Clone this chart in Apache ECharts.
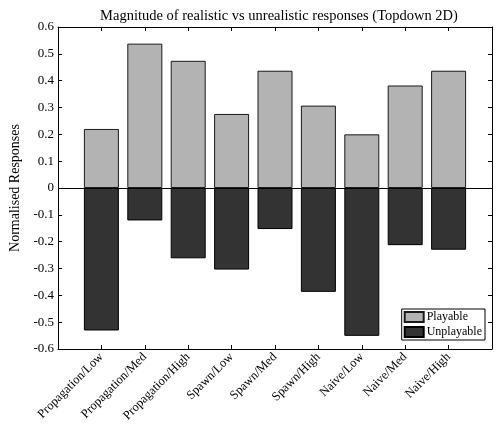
<!DOCTYPE html>
<html>
<head>
<meta charset="utf-8">
<script src="https://cdn.jsdelivr.net/npm/echarts@6/dist/echarts.min.js"></script>
<style>
  html, body { margin: 0; padding: 0; background: #ffffff; }
  #chart { width: 496px; height: 435px; }
</style>
</head>
<body>
<div id="chart"></div>
<script>
// Conditions along the x axis
const categories = [
  'Propagation/Low', 'Propagation/Med', 'Propagation/High',
  'Spawn/Low', 'Spawn/Med', 'Spawn/High',
  'Naive/Low', 'Naive/Med', 'Naive/High'
];
// Normalised response magnitudes per condition
const playable = [0.220, 0.538, 0.474, 0.276, 0.437, 0.307, 0.200, 0.382, 0.437];
const unplayable = [-0.531, -0.121, -0.262, -0.304, -0.153, -0.387, -0.551, -0.213, -0.230];
// Y axis tick range
const yMin = -0.6, yMax = 0.6, yStep = 0.1;

const FONT = 'Liberation Serif';
const toPairs = arr => arr.map((v, i) => [i + 1, v]);

const chart = echarts.init(document.getElementById('chart'), null, { renderer: 'canvas' });

const tickStyle = { show: true, inside: true, length: 4, lineStyle: { color: '#000', width: 1 } };
const lineStyle = { show: true, onZero: false, lineStyle: { color: '#000', width: 1 } };

chart.setOption({
  animation: false,
  backgroundColor: '#ffffff',
  textStyle: { fontFamily: FONT, color: '#000' },
  title: {
    text: 'Magnitude of realistic vs unrealistic responses (Topdown 2D)',
    left: 274, top: 4, textAlign: 'center',
    textStyle: { fontFamily: FONT, fontSize: 14.5, fontWeight: 'normal', color: '#000' }
  },
  grid: { left: 56, right: 4, top: 27, bottom: 86, containLabel: false },
  legend: {
    orient: 'vertical',
    right: 11, bottom: 95,
    itemWidth: 19, itemHeight: 10, itemGap: 3,
    icon: 'rect',
    padding: [2, 3, 2, 2],
    borderColor: '#000', borderWidth: 1, backgroundColor: '#fff',
    textStyle: { fontFamily: FONT, fontSize: 12, color: '#000', padding: [0, 0, 0, -2] },
    data: ['Playable', 'Unplayable']
  },
  xAxis: [
    {
      type: 'value', min: 0, max: 10, interval: 1, position: 'bottom',
      axisLine: lineStyle, axisTick: tickStyle, splitLine: { show: false },
      axisLabel: {
        rotate: 45, fontFamily: FONT, fontSize: 12.5, color: '#000', margin: 6,
        formatter: v => categories[v - 1] || ''
      }
    },
    {
      type: 'value', min: 0, max: 10, interval: 1, position: 'top',
      axisLine: lineStyle, axisTick: tickStyle, splitLine: { show: false },
      axisLabel: { show: false }
    }
  ],
  yAxis: [
    {
      type: 'value', min: yMin, max: yMax, interval: yStep, position: 'left',
      name: 'Normalised Responses', nameLocation: 'middle', nameGap: 36, nameRotate: 90,
      nameTextStyle: { fontFamily: FONT, fontSize: 14, color: '#000' },
      axisLine: lineStyle, axisTick: tickStyle, splitLine: { show: false },
      axisLabel: {
        fontFamily: FONT, fontSize: 13, color: '#000', margin: 4,
        formatter: v => { const r = Math.round(v * 10) / 10; return r === 0 ? '0' : r.toFixed(1); }
      }
    },
    {
      type: 'value', min: yMin, max: yMax, interval: yStep, position: 'right',
      axisLine: lineStyle, axisTick: tickStyle, splitLine: { show: false },
      axisLabel: { show: false }
    }
  ],
  series: [
    {
      name: 'Playable', type: 'bar', xAxisIndex: 0, yAxisIndex: 0,
      data: toPairs(playable), barWidth: 35, barGap: '-100%',
      itemStyle: { color: '#b3b3b3', borderColor: '#1a1a1a', borderWidth: 1 },
      markLine: {
        silent: true, symbol: 'none', label: { show: false },
        lineStyle: { color: '#000', width: 1, type: 'solid' },
        data: [{ yAxis: 0 }]
      }
    },
    {
      name: 'Unplayable', type: 'bar', xAxisIndex: 0, yAxisIndex: 0,
      data: toPairs(unplayable), barWidth: 35, barGap: '-100%',
      itemStyle: { color: '#333333', borderColor: '#000', borderWidth: 1 }
    }
  ]
});
</script>
</body>
</html>
